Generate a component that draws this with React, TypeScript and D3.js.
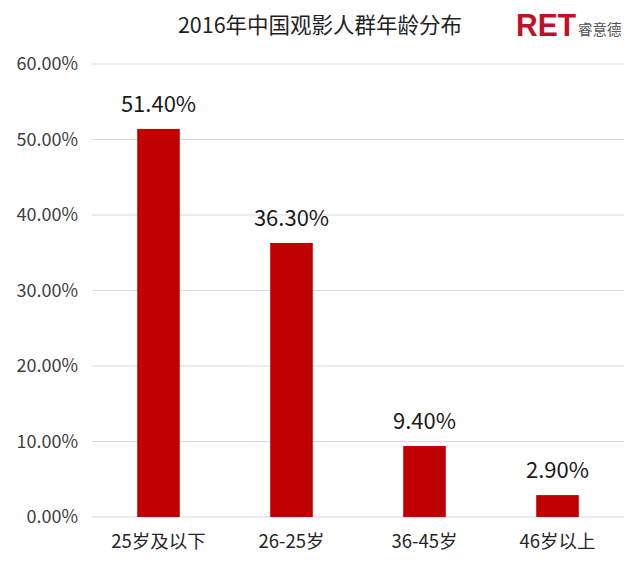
import React from "react";
import * as d3 from "d3";

const categories = ["25岁及以下", "26-25岁", "36-45岁", "46岁以上"];
const values = [51.4, 36.3, 9.4, 2.9];
const yTicks = [0, 10, 20, 30, 40, 50, 60];
const title = "2016年中国观影人群年龄分布";

const W = 640;
const H = 567;
const margin = { left: 92, right: 16, top: 64, bottom: 50 };
const FONT = "'Noto Sans CJK SC', 'Microsoft YaHei', sans-serif";

export default function App() {
  const x = d3
    .scaleBand<string>()
    .domain(categories)
    .range([margin.left, W - margin.right])
    .paddingInner(0.68)
    .paddingOuter(0.34);
  const y = d3.scaleLinear().domain([0, 60]).range([H - margin.bottom, margin.top]);

  return (
    <svg width={W} height={H} style={{ position: "absolute", left: 0, top: 0, background: "#fff" }}>
      <rect x={0} y={0} width={W} height={H} fill="#fff" />
      <text x={320} y={33} textAnchor="middle" fontFamily={FONT} fontSize={21.5} fill="#1f1f1f">
        {title}
      </text>
      <text x={516} y={36} fontFamily="'Liberation Sans', Arial, sans-serif" fontWeight="bold" fontSize={31} fill="#c0102a" textLength={60} lengthAdjust="spacingAndGlyphs">
        RET
      </text>
      <text x={578} y={35} fontFamily={FONT} fontSize={14.5} fill="#555">
        睿意德
      </text>
      {yTicks.map((t) => (
        <g key={t}>
          <line x1={margin.left} x2={W - margin.right} y1={y(t)} y2={y(t)} stroke="#d9d9d9" strokeWidth={1.2} />
          <text x={78} y={y(t)} dy="0.35em" textAnchor="end" fontFamily={FONT} fontSize={18} fill="#404040">
            {t.toFixed(2) + "%"}
          </text>
        </g>
      ))}
      {categories.map((c, i) => (
        <g key={c}>
          <rect x={x(c)} y={y(values[i])} width={x.bandwidth()} height={y(0) - y(values[i])} fill="#c00000" />
          <text
            x={(x(c) as number) + x.bandwidth() / 2}
            y={y(values[i]) - 17}
            textAnchor="middle"
            fontFamily={FONT}
            fontSize={22}
            fill="#1a1a1a"
          >
            {values[i].toFixed(2) + "%"}
          </text>
          <text
            x={(x(c) as number) + x.bandwidth() / 2}
            y={y(0) + 31}
            textAnchor="middle"
            fontFamily={FONT}
            fontSize={18.5}
            fill="#262626"
          >
            {c}
          </text>
        </g>
      ))}
    </svg>
  );
}
